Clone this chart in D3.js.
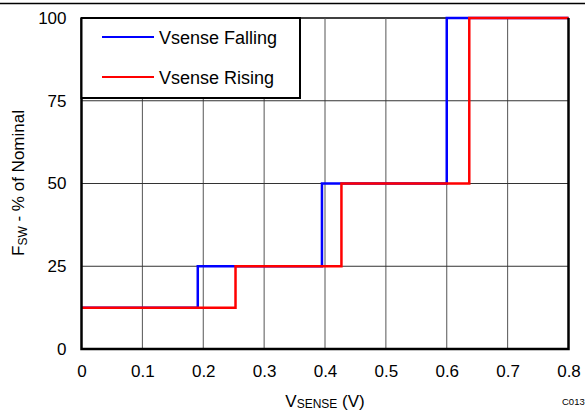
<!DOCTYPE html>
<html><head><meta charset="utf-8">
<script src="https://cdn.jsdelivr.net/npm/d3@7"></script>
<style>body{margin:0;background:#fff}svg{display:block;font-family:"Liberation Sans",Arial,sans-serif}</style>
</head><body>
<script>
const xTicks=[0,0.1,0.2,0.3,0.4,0.5,0.6,0.7,0.8];
const yTicks=[0,25,50,75,100];
const fallingX=[0,0.191,0.191,0.395,0.395,0.600,0.600,0.8];
const fallingY=[12.5,12.5,25,25,50,50,100,100];
const risingX=[0,0.253,0.253,0.427,0.427,0.637,0.637,0.8];
const risingY=[12.5,12.5,25,25,50,50,100,100];
const seriesNames=["Vsense Falling","Vsense Rising"];
const colors=["#0000ff","#ff0000"];

const W=585,H=412;
const svg=d3.select("body").append("svg").attr("width",W).attr("height",H);
const L=81.5,R=568.5,T=18,B=349;
const x=d3.scaleLinear().domain([0,0.8]).range([L,R]);
const y=d3.scaleLinear().domain([0,100]).range([B,T]);

svg.append("line").attr("x1",0).attr("x2",W).attr("y1",3.5).attr("y2",3.5).attr("stroke","#000").attr("stroke-width",1.5);

// grid
svg.append("g").selectAll("line").data(xTicks.slice(1,-1)).join("line")
 .attr("x1",d=>x(d)).attr("x2",d=>x(d)).attr("y1",T).attr("y2",B).attr("stroke","#555").attr("stroke-width",1);
svg.append("g").selectAll("line").data(yTicks.slice(1,-1)).join("line")
 .attr("x1",L).attr("x2",R).attr("y1",d=>y(d)).attr("y2",d=>y(d)).attr("stroke","#333").attr("stroke-width",1);

// axes labels
const xa=svg.append("g").attr("transform",`translate(0,${B})`).call(d3.axisBottom(x).tickValues(xTicks).tickSize(0).tickPadding(16).tickFormat(d3.format("")));
xa.select(".domain").remove();
xa.selectAll("text").attr("font-size",17).attr("fill","#000").attr("font-family","Liberation Sans, Arial, sans-serif");
const ya=svg.append("g").attr("transform",`translate(${L},0)`).call(d3.axisLeft(y).tickValues(yTicks).tickSize(0).tickPadding(15));
ya.select(".domain").remove();
ya.selectAll("text").attr("font-size",17).attr("fill","#000").attr("font-family","Liberation Sans, Arial, sans-serif");

// lines
const line=d3.line().x(d=>x(d[0])).y(d=>y(d[1]));
[[fallingX,fallingY],[risingX,risingY]].forEach((s,i)=>{
  svg.append("path").datum(s[0].map((v,j)=>[v,s[1][j]])).attr("d",line)
   .attr("fill","none").attr("stroke",colors[i]).attr("stroke-width",2.5);
});

// frame
svg.append("line").attr("x1",L).attr("x2",R).attr("y1",T).attr("y2",T).attr("stroke","#000").attr("stroke-width",1.5).lower();
svg.append("path").attr("d",`M${L},${T}V${B}H${R}V${T}`).attr("fill","none").attr("stroke","#000").attr("stroke-width",2.5);

// legend
const lg=svg.append("g");
lg.append("rect").attr("x",L).attr("y",T).attr("width",300-L).attr("height",98-T).attr("fill","#fff").attr("stroke","#000").attr("stroke-width",2);
seriesNames.forEach((n,i)=>{
  const yy=37+i*40;
  lg.append("line").attr("x1",102).attr("x2",154).attr("y1",yy).attr("y2",yy).attr("stroke",colors[i]).attr("stroke-width",2);
  lg.append("text").attr("x",159).attr("y",yy+6.5).attr("font-size",18).text(n);
});

// axis titles
const xt=svg.append("text").attr("x",325).attr("y",407).attr("text-anchor","middle").attr("font-size",17);
xt.append("tspan").text("V");
xt.append("tspan").attr("font-size",12).attr("dy",1).text("SENSE");
xt.append("tspan").attr("dy",-1).text(" (V)");
const yt=svg.append("text").attr("transform","translate(24,183) rotate(-90)").attr("text-anchor","middle").attr("font-size",17);
yt.append("tspan").text("F");
yt.append("tspan").attr("font-size",12).attr("dy",3).text("SW");
yt.append("tspan").attr("dy",-3).text(" - % of Nominal");
svg.append("text").attr("x",562).attr("y",404.5).attr("font-size",9.5).text("C013");
</script>
</body></html>
